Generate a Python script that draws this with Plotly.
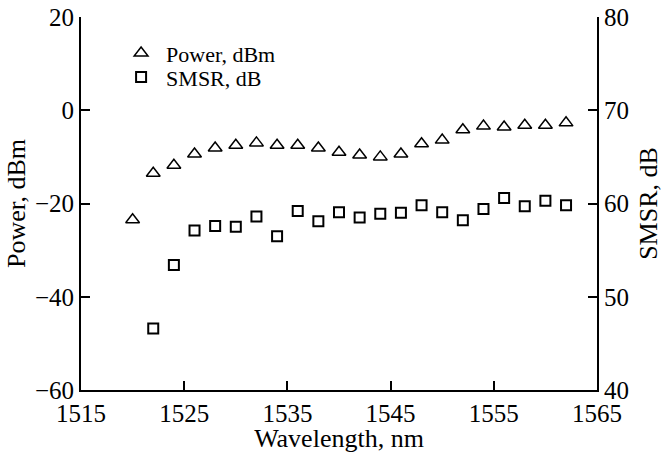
import plotly.graph_objects as go

wavelength = [1520, 1522, 1524, 1526, 1528, 1530, 1532, 1534, 1536, 1538, 1540,
              1542, 1544, 1546, 1548, 1550, 1552, 1554, 1556, 1558, 1560, 1562]
power_dbm = [-23.5, -13.5, -11.8, -9.4, -8.1, -7.5, -7.0, -7.5, -7.5, -8.1, -9.0,
             -9.6, -10.0, -9.4, -7.2, -6.4, -4.2, -3.4, -3.6, -3.2, -3.2, -2.7]
smsr_wavelength = [1522, 1524, 1526, 1528, 1530, 1532, 1534, 1536, 1538, 1540, 1542,
                   1544, 1546, 1548, 1550, 1552, 1554, 1556, 1558, 1560, 1562]
smsr_db = [46.6, 53.4, 57.1, 57.6, 57.5, 58.6, 56.5, 59.2, 58.1, 59.05, 58.5,
           58.9, 59.0, 59.8, 59.05, 58.2, 59.4, 60.6, 59.7, 60.3, 59.8]

x_ticks = [1515, 1525, 1535, 1545, 1555, 1565]
left_ticks = [-60, -40, -20, 0, 20]
right_ticks = [40, 50, 60, 70, 80]

FONT = "Liberation Serif, Times New Roman, serif"

fig = go.Figure()
fig.add_trace(go.Scatter(
    x=wavelength, y=power_dbm, mode="markers", name="Power, dBm",
    marker=dict(symbol="triangle-up-open", size=12, color="black",
                line=dict(width=1.5, color="black")),
    yaxis="y", legend="legend"))
fig.add_trace(go.Scatter(
    x=smsr_wavelength, y=smsr_db, mode="markers", name="SMSR, dB",
    marker=dict(symbol="square-open", size=10, color="black",
                line=dict(width=2, color="black")),
    yaxis="y2", legend="legend2"))

axis_common = dict(showline=True, linecolor="black", linewidth=2,
                   ticks="inside", ticklen=9, tickwidth=2, tickcolor="black",
                   showgrid=False, zeroline=False, automargin=False,
                   tickfont=dict(family=FONT, size=25, color="black"))

legend_common = dict(xanchor="left", yanchor="top", bgcolor="rgba(0,0,0,0)",
                     itemwidth=40, font=dict(family=FONT, size=22, color="black"))

fig.update_layout(
    width=663, height=453,
    margin=dict(l=81, r=66, t=17, b=63),
    paper_bgcolor="white", plot_bgcolor="white",
    font=dict(family=FONT, color="black"),
    xaxis=dict(range=[1515, 1565], tickvals=x_ticks,
               title=dict(text="Wavelength, nm", font=dict(family=FONT, size=26), standoff=5),
               **axis_common),
    yaxis=dict(range=[-60, 20], tickvals=left_ticks,
               title=dict(text="Power, dBm", font=dict(family=FONT, size=26), standoff=2),
               **axis_common),
    yaxis2=dict(range=[40, 80], tickvals=right_ticks, overlaying="y", side="right",
                title=dict(text="SMSR, dB", font=dict(family=FONT, size=26), standoff=11),
                **axis_common),
    legend=dict(x=0.068, y=0.959, **legend_common),
    legend2=dict(x=0.068, y=0.895, **legend_common),
    showlegend=True,
)

fig.write_html("out.html", config={"displayModeBar": False},
               post_script="document.body.style.margin='0';")
